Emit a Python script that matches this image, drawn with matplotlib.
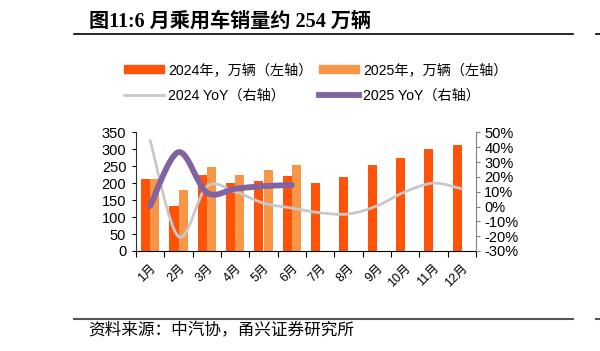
import numpy as np
import matplotlib.pyplot as plt
from matplotlib.path import Path
from matplotlib.patches import PathPatch, Patch
from matplotlib.lines import Line2D

plt.rcParams['font.family'] = ['Liberation Sans', 'Noto Sans CJK SC']
plt.rcParams['axes.unicode_minus'] = False

months = ['1月', '2月', '3月', '4月', '5月', '6月',
          '7月', '8月', '9月', '10月', '11月', '12月']
sales_2024 = [212, 134, 224, 200, 208, 222, 201, 218, 253, 276, 300, 313]
sales_2025 = [214, 181, 247, 223, 238, 254]
yoy_2024 = [44.6, -20.3, 13.5, 10.0, 2.3, -1.0, -4.2, -5.0, 0.4, 10.0, 15.8, 12.0]
yoy_2025 = [0.4, 36.7, 9.4, 12.0, 13.8, 14.5]

c24 = '#FF5309'
c25 = '#F79646'
c_gray = '#C8C8C8'
c_purple = '#8064A2'


def smooth_path(x, y):
    # excel-like smoothed line, cubic bezier segments
    x = np.asarray(x, float)
    y = np.asarray(y, float)
    px = np.r_[x[0], x, x[-1]]
    py = np.r_[y[0], y, y[-1]]
    verts = [(x[0], y[0])]
    codes = [Path.MOVETO]
    for i in range(len(x) - 1):
        c1 = (px[i+1] + (px[i+2] - px[i]) / 6, py[i+1] + (py[i+2] - py[i]) / 6)
        c2 = (px[i+2] - (px[i+3] - px[i+1]) / 6, py[i+2] - (py[i+3] - py[i+1]) / 6)
        verts += [c1, c2, (x[i+1], y[i+1])]
        codes += [Path.CURVE4] * 3
    return Path(verts, codes)


fig = plt.figure(figsize=(6, 3.51), dpi=100)
ax = fig.add_axes([136/600, 1-251/351, (476-136)/600, (251-132.5)/351])
ax2 = ax.twinx()

x24 = np.arange(len(sales_2024))
x25 = np.arange(len(sales_2025))
w = 0.32
ax.bar(x24 - w/2, sales_2024, w, color=c24, zorder=2)
ax.bar(x25 + w/2, sales_2025, w, color=c25, zorder=2)

ax2.add_patch(PathPatch(smooth_path(x24, yoy_2024), fill=False, edgecolor=c_gray,
                        lw=2, capstyle='round', zorder=3))
ax2.add_patch(PathPatch(smooth_path(x25, yoy_2025), fill=False, edgecolor=c_purple,
                        lw=4.2, capstyle='round', zorder=4))

ax.set_xlim(-0.5, 11.5)
ax.set_ylim(0, 350)
ax.set_yticks(range(0, 351, 50))
ax2.set_ylim(-30, 50)
ax2.set_yticks(range(-30, 51, 10))
ax2.set_yticklabels([f'{v}%' for v in range(-30, 51, 10)])

ax.set_xticks(np.arange(-0.5, 12, 1))
ax.set_xticklabels([])
ax.set_xticks(x24, minor=True)
ax.set_xticklabels(months, minor=True, rotation=45, ha='right', va='top',
                   rotation_mode='anchor', fontsize=9)
ax.tick_params(axis='x', which='minor', length=0, pad=8)
ax.tick_params(axis='x', which='major', length=4, direction='out', color='black')
ax.tick_params(axis='y', length=3, direction='out', labelsize=10.5, pad=4)
ax2.tick_params(axis='y', length=3, direction='out', labelsize=10.5, pad=3,
                color='#808080')

for s in ['top', 'right']:
    ax.spines[s].set_visible(False)
ax2.spines['top'].set_visible(False)
ax2.spines['left'].set_visible(False)
ax2.spines['bottom'].set_visible(False)
ax2.spines['right'].set_color('#808080')
ax.spines['left'].set_color('#303030')
ax.spines['bottom'].set_color('black')
ax.set_zorder(ax2.get_zorder() - 1)
ax.patch.set_visible(False)

handles = [Patch(color=c24), Line2D([], [], color=c_gray, lw=2),
           Patch(color=c25), Line2D([], [], color=c_purple, lw=4.2)]
labels = ['2024年，万辆（左轴）', '2024 YoY（右轴）',
          '2025年，万辆（左轴）', '2025 YoY（右轴）']
fig.legend(handles, labels, ncol=2, loc='upper left',
           bbox_to_anchor=(124/600, 1-63/351), frameon=False, fontsize=10.2,
           borderpad=0, borderaxespad=0, handlelength=2.8, handleheight=0.5,
           handletextpad=0.3, columnspacing=0.5, labelspacing=0.8)

fig.text(89/600, 1-22/351, '图11:6 月乘用车销量约 254 万辆', fontsize=14.5,
         fontweight='bold', family=['Liberation Serif', 'Noto Sans CJK SC'],
         ha='left', va='center')
fig.add_artist(Line2D([74/600, 573/600], [1-34.3/351]*2, color='black', lw=1.2))
fig.add_artist(Line2D([596/600, 1], [1-34.3/351]*2, color='black', lw=1.2))
fig.add_artist(Line2D([74/600, 573/600], [1-318.7/351]*2, color='#555555', lw=1.5))
fig.add_artist(Line2D([596/600, 1], [1-318.7/351]*2, color='#555555', lw=1.5))
fig.text(88/600, 1-331/351, '资料来源：中汽协，甬兴证券研究所', fontsize=12,
         style='italic', family=['Noto Sans CJK SC'], ha='left', va='center')

fig.savefig('out.png', dpi=100)
